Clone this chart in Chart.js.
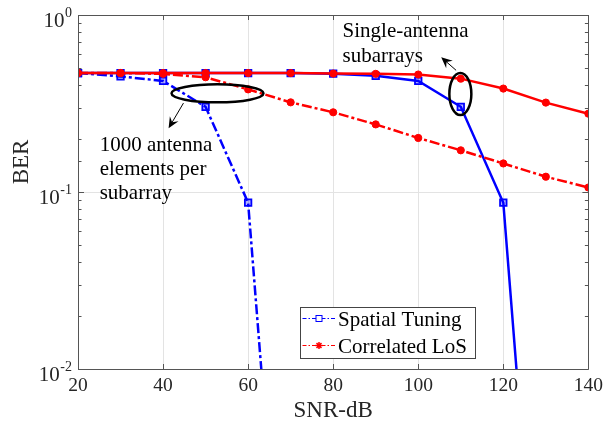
<!DOCTYPE html>
<html>
<head>
<meta charset="utf-8">
<title>BER vs SNR</title>
<script src="https://cdn.jsdelivr.net/npm/chart.js@4/dist/chart.umd.min.js"></script>
<style>
  html, body { margin: 0; padding: 0; background: #ffffff; }
  #c { display: block; }
</style>
</head>
<body>
<canvas id="c" width="608" height="427"></canvas>
<script>
// SNR grid (dB)
const snr = [20, 30, 40, 50, 60, 70, 80, 90, 100, 110, 120, 130, 140];

// BER curves
const tuningSingle = [0.47, 0.47, 0.47, 0.47, 0.47, 0.47, 0.466, 0.453, 0.424, 0.303, 0.087, 0.00008, null];
const tuningArray  = [0.47, 0.45, 0.424, 0.303, 0.087, 0.00008, null, null, null, null, null, null, null];
const losSingle    = [0.47, 0.47, 0.47, 0.47, 0.47, 0.47, 0.467, 0.465, 0.461, 0.437, 0.384, 0.320, 0.277];
const losArray     = [0.47, 0.47, 0.465, 0.445, 0.38, 0.321, 0.282, 0.241, 0.202, 0.172, 0.145, 0.122, 0.106];

// Axis tick labels
const xTicks = [20, 40, 60, 80, 100, 120, 140];
const yDecades = [1, 0.1, 0.01];
const yExponents = ['0', '-1', '-2'];

const legendLabels = ['Spatial Tuning', 'Correlated LoS'];
const noteArray = ['1000 antenna', 'elements per', 'subarray'];
const noteSingle = ['Single-antenna', 'subarrays'];

const BLUE = '#0000ff';
const RED = '#ff0000';
const SERIF = '"Liberation Serif", "Times New Roman", serif';
const DASHDOT = [10, 3, 3, 3];

function pts(vals) {
  const out = [];
  vals.forEach((v, i) => { if (v !== null) out.push({ x: snr[i], y: v }); });
  return out;
}

const squareStyle = {
  pointStyle: 'rect', pointRadius: 4.6, pointHoverRadius: 4.6,
  pointBorderColor: BLUE, pointBackgroundColor: 'rgba(0,0,255,0.3)', pointBorderWidth: 1.8
};
const dotStyle = {
  pointStyle: 'circle', pointRadius: 3.6, pointHoverRadius: 3.6,
  pointBorderColor: RED, pointBackgroundColor: RED, pointBorderWidth: 1
};

// Frame, inward ticks, y labels, legend box and callouts
const decorations = {
  id: 'decorations',
  afterDatasetsDraw(chart) {
    const { ctx, chartArea: a, scales } = chart;
    const xs = scales.x, ys = scales.y;
    ctx.save();
    ctx.strokeStyle = '#555555';
    ctx.lineWidth = 1;
    ctx.beginPath();
    ctx.rect(Math.round(a.left) + 0.5, Math.round(a.top) + 0.5,
             Math.round(a.right - a.left), Math.round(a.bottom - a.top));
    ctx.stroke();
    // x ticks on bottom and top
    ctx.beginPath();
    xTicks.forEach(v => {
      const px = Math.round(xs.getPixelForValue(v)) + 0.5;
      ctx.moveTo(px, a.bottom); ctx.lineTo(px, a.bottom - 5);
      ctx.moveTo(px, a.top); ctx.lineTo(px, a.top + 5);
    });
    // y ticks (major and minor) on both sides
    ys.ticks.forEach(t => {
      const v = t.value;
      if (v < 0.01 - 1e-12 || v > 1 + 1e-12) return;
      const py = Math.round(ys.getPixelForValue(v)) + 0.5;
      const major = Math.abs(Math.log10(v) - Math.round(Math.log10(v))) < 1e-6;
      const len = major ? 6 : 3.5;
      ctx.moveTo(a.left, py); ctx.lineTo(a.left + len, py);
      ctx.moveTo(a.right, py); ctx.lineTo(a.right - len, py);
    });
    ctx.stroke();
    ctx.restore();
  },
  afterDraw(chart) {
    const { ctx, chartArea: a, scales } = chart;
    const xs = scales.x, ys = scales.y;
    ctx.save();
    ctx.fillStyle = '#262626';

    // y tick labels as 10^n
    yDecades.forEach((v, i) => {
      const py = ys.getPixelForValue(v);
      ctx.font = '14px ' + SERIF;
      const wSup = ctx.measureText(yExponents[i]).width;
      const right = a.left - 6;
      ctx.textBaseline = 'middle';
      ctx.textAlign = 'right';
      ctx.fillText(yExponents[i], right, py - 2);
      ctx.font = '21px ' + SERIF;
      ctx.fillText('10', right - wSup - 0.5, py + 6);
    });

    // y axis title
    ctx.save();
    ctx.translate(22, 162);
    ctx.rotate(-Math.PI / 2);
    ctx.font = '23px ' + SERIF;
    ctx.textAlign = 'center';
    ctx.textBaseline = 'middle';
    ctx.fillText('BER', 0, 0);
    ctx.restore();

    // legend
    const lx = 300.5, ly = 307.5, lw = 175, lh = 51;
    ctx.fillStyle = '#ffffff';
    ctx.fillRect(lx, ly, lw, lh);
    ctx.strokeStyle = '#444444';
    ctx.lineWidth = 1;
    ctx.strokeRect(lx, ly, lw, lh);
    const rows = [ly + 11, ly + 38];
    const colors = [BLUE, RED];
    rows.forEach((ry, i) => {
      ctx.strokeStyle = colors[i];
      ctx.lineWidth = 1;
      ctx.setLineDash([4, 2, 1.5, 2]);
      ctx.beginPath();
      ctx.moveTo(lx + 2, ry); ctx.lineTo(lx + 35, ry);
      ctx.stroke();
      ctx.setLineDash([]);
      const mx = lx + 18.5;
      if (i === 0) {
        ctx.fillStyle = '#ffffff';
        ctx.fillRect(mx - 3, ry - 3, 6, 6);
        ctx.strokeRect(mx - 3, ry - 3, 6, 6);
      } else {
        ctx.beginPath();
        for (let k = 0; k < 4; k++) {
          const ang = k * Math.PI / 4;
          ctx.moveTo(mx - 3.5 * Math.cos(ang), ry - 3.5 * Math.sin(ang));
          ctx.lineTo(mx + 3.5 * Math.cos(ang), ry + 3.5 * Math.sin(ang));
        }
        ctx.lineWidth = 1.5;
        ctx.stroke();
      }
      ctx.fillStyle = '#000000';
      ctx.font = '21px ' + SERIF;
      ctx.textAlign = 'left';
      ctx.textBaseline = 'middle';
      ctx.fillText(legendLabels[i], lx + 37.5, ry + 2);
    });

    // callout ellipses
    const px = v => xs.getPixelForValue(v);
    const py = v => ys.getPixelForValue(v);
    ctx.strokeStyle = '#000000';
    ctx.lineWidth = 2.5;
    [[52.8, 0.361, 46, 9], [109.9, 0.358, 11, 21]].forEach(e => {
      ctx.beginPath();
      ctx.ellipse(px(e[0]), py(e[1]), e[2], e[3], 0, 0, Math.PI * 2);
      ctx.stroke();
    });

    // callout arrows
    function arrow(x0, y0, x1, y1) {
      const ang = Math.atan2(y1 - y0, x1 - x0);
      ctx.strokeStyle = '#000000';
      ctx.fillStyle = '#000000';
      ctx.lineWidth = 1;
      ctx.beginPath();
      ctx.moveTo(x0, y0); ctx.lineTo(x1 - 6 * Math.cos(ang), y1 - 6 * Math.sin(ang));
      ctx.stroke();
      const L = 11, W = 5, notch = 7;
      ctx.beginPath();
      ctx.moveTo(x1, y1);
      ctx.lineTo(x1 - L * Math.cos(ang) + W * Math.sin(ang), y1 - L * Math.sin(ang) - W * Math.cos(ang));
      ctx.lineTo(x1 - notch * Math.cos(ang), y1 - notch * Math.sin(ang));
      ctx.lineTo(x1 - L * Math.cos(ang) - W * Math.sin(ang), y1 - L * Math.sin(ang) + W * Math.cos(ang));
      ctx.closePath();
      ctx.fill();
    }
    arrow(px(44.8), py(0.318), px(41.3), py(0.229));
    arrow(px(108.9), py(0.487), px(105.4), py(0.577));

    // callout text
    ctx.fillStyle = '#000000';
    ctx.font = '21px ' + SERIF;
    ctx.textAlign = 'left';
    ctx.textBaseline = 'middle';
    noteArray.forEach((t, i) => ctx.fillText(t, px(25.1), py(0.184) + i * 24));
    noteSingle.forEach((t, i) => ctx.fillText(t, px(82.2), py(0.812) + i * 25));
    ctx.restore();
  }
};

new Chart(document.getElementById('c'), {
  type: 'line',
  data: {
    datasets: [
      Object.assign({ label: 'Spatial Tuning (single)', data: pts(tuningSingle), borderColor: BLUE,
        borderWidth: 2.5, order: 2 }, squareStyle),
      Object.assign({ label: 'Spatial Tuning (1000)', data: pts(tuningArray), borderColor: BLUE,
        borderWidth: 2.5, borderDash: DASHDOT, order: 3 }, squareStyle),
      Object.assign({ label: 'Correlated LoS (single)', data: pts(losSingle), borderColor: RED,
        borderWidth: 2.5, order: 0 }, dotStyle),
      Object.assign({ label: 'Correlated LoS (1000)', data: pts(losArray), borderColor: RED,
        borderWidth: 2.5, borderDash: DASHDOT, order: 1 }, dotStyle)
    ]
  },
  options: {
    responsive: false,
    animation: false,
    layout: { padding: { left: 0, top: 15, right: 19, bottom: 0 } },
    plugins: { legend: { display: false }, tooltip: { enabled: false } },
    scales: {
      x: {
        type: 'linear', min: 20, max: 140,
        afterBuildTicks: s => { s.ticks = xTicks.map(v => ({ value: v })); },
        afterFit: s => { s.height = 58; },
        border: { display: false },
        grid: {
          drawTicks: false,
          color: c => (c.tick && (c.tick.value === 20 || c.tick.value === 140)) ? 'rgba(0,0,0,0)' : '#e3e3e3',
          lineWidth: 1
        },
        ticks: { padding: 5, color: '#262626', font: { family: SERIF, size: 19.5 }, maxRotation: 0 },
        title: { display: true, text: 'SNR-dB', color: '#262626',
          font: { family: SERIF, size: 23 }, padding: { top: 0, bottom: 2 } }
      },
      y: {
        type: 'logarithmic', min: 0.01, max: 1,
        afterFit: s => { s.width = 78; },
        border: { display: false },
        grid: {
          drawTicks: false,
          color: c => (c.tick && Math.abs(c.tick.value - 0.1) < 1e-9) ? '#e3e3e3' : 'rgba(0,0,0,0)',
          lineWidth: 1
        },
        ticks: { display: false }
      }
    }
  },
  plugins: [decorations]
});
</script>
</body>
</html>
